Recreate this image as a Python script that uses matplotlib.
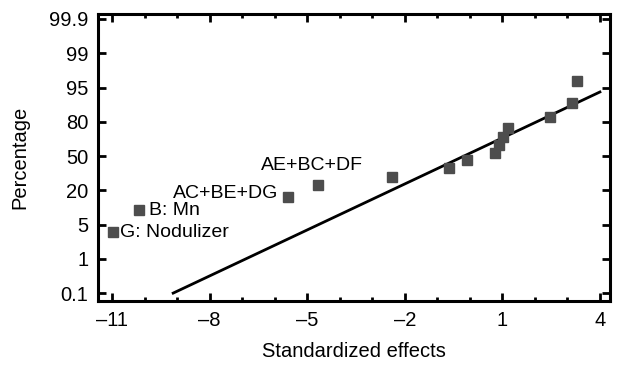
import numpy as np
import matplotlib
matplotlib.use("Agg")
import matplotlib.pyplot as plt
from matplotlib.ticker import MultipleLocator

plt.rcParams["font.family"] = ["Liberation Sans", "DejaVu Sans"]

# standardized effects and their plotting position (0 = 0.1 %, 8 = 99.9 %)
effects = [-10.97, -10.17, -5.59, -4.67, -2.39, -0.64, -0.09, 0.77, 0.90,
           1.02, 1.17, 2.46, 3.14, 3.29]
prob_pos = [1.78, 2.42, 2.80, 3.15, 3.39, 3.65, 3.88, 4.09, 4.32,
            4.55, 4.82, 5.14, 5.55, 6.19]
labels = ["G: Nodulizer", "B: Mn", "AC+BE+DG", "AE+BC+DF"]
fit_x = [-9.12, 4.0]
fit_y = [0.0, 5.87]
pct_ticks = ["0.1", "1", "5", "20", "50", "80", "95", "99", "99.9"]
x_ticks = [-11, -8, -5, -2, 1, 4]

fig = plt.figure(figsize=(6.22, 3.74), dpi=100)
ax = fig.add_axes([0.1576, 0.1952, 0.8231, 0.7674])

ax.plot(fit_x, fit_y, "-", color="black", lw=2.0)
ax.plot(effects, prob_pos, "s", color="#4d4d4d", ms=7.5, mec="#4d4d4d")

fs = 14
ax.text(effects[0] + 0.22, prob_pos[0], labels[0], fontsize=fs, va="center", ha="left")
ax.text(effects[1] + 0.3, prob_pos[1], labels[1], fontsize=fs, va="center", ha="left")
ax.text(effects[2] - 0.31, prob_pos[2] + 0.12, labels[2], fontsize=fs, va="center", ha="right")
ax.text(effects[3] - 0.18, prob_pos[3] + 0.56, labels[3], fontsize=fs, va="center", ha="center")

ax.set_xlim(-11.43, 4.31)
ax.set_ylim(-0.23, 8.146)
ax.set_xticks(x_ticks)
ax.set_xticklabels([f"\u2013{-v}" if v < 0 else str(v) for v in x_ticks])
ax.xaxis.set_minor_locator(MultipleLocator(1))
ax.set_yticks(range(len(pct_ticks)))
ax.set_yticklabels(pct_ticks)

ax.tick_params(which="both", direction="in", top=True, right=True, labelsize=14.5,
               width=2, pad=7)
ax.tick_params(which="major", length=6)
ax.tick_params(which="minor", length=3)
for s in ax.spines.values():
    s.set_linewidth(2.2)

ax.set_xlabel("Standardized effects", fontsize=14.5, labelpad=9)
ax.set_ylabel("Percentage", fontsize=14.5, labelpad=14)

fig.savefig("out.png", dpi=100)
